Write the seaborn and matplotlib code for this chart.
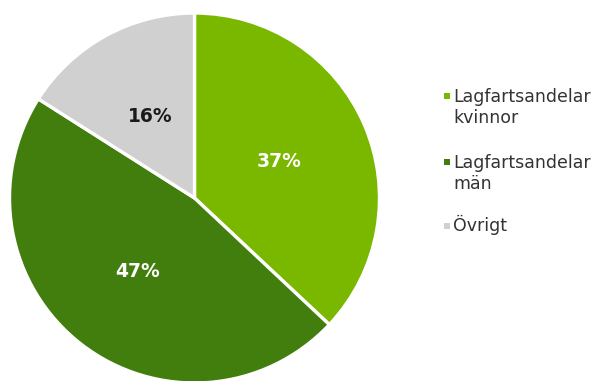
import matplotlib
matplotlib.use("Agg")
import matplotlib.pyplot as plt
from matplotlib.patches import Rectangle
import seaborn as sns

categories = ["Lagfartsandelar\nkvinnor", "Lagfartsandelar\nmän", "Övrigt"]
values = [37, 47, 16]
colors = ["#7AB800", "#427E0E", "#D0D0D0"]
pct_colors = ["white", "white", "#1a1a1a"]

sns.set_theme(style="white")
plt.rcParams["font.family"] = ["DejaVu Sans"]

W, H = 595, 381
fig = plt.figure(figsize=(W / 100, H / 100), dpi=100)
fig.patch.set_facecolor("white")

cx, cy, r = 194.5, 198, 185
ax = fig.add_axes([(cx - r) / W, (H - cy - r) / H, 2 * r / W, 2 * r / H])
wedges, texts, autotexts = ax.pie(
    values, colors=colors, startangle=90, counterclock=False,
    autopct="%d%%", pctdistance=0.5,
    wedgeprops=dict(edgecolor="white", linewidth=2.4),
    textprops=dict(fontsize=13.5, fontweight="bold"),
)
for t, c in zip(autotexts, pct_colors):
    t.set_color(c)
ax.set_xlim(-1, 1)
ax.set_ylim(-1, 1)
ax.set_aspect("equal")
ax.axis("off")

# legend drawn at figure pixel positions (first-line baselines)
first_baselines = [101, 167, 231]
line_step = 22
for lab, col, yb in zip(categories, colors, first_baselines):
    nlines = lab.count("\n") + 1
    fig.add_artist(Rectangle((444 / W, (H - yb + 2) / H), 6 / W, 6 / H,
                             transform=fig.transFigure, facecolor=col,
                             edgecolor="none"))
    y_last = yb + line_step * (nlines - 1)
    fig.text(453 / W, (H - y_last) / H, lab, fontsize=12.5, color="#333333",
             va="baseline", ha="left", linespacing=1.25)

fig.savefig("out.png", dpi=100)
